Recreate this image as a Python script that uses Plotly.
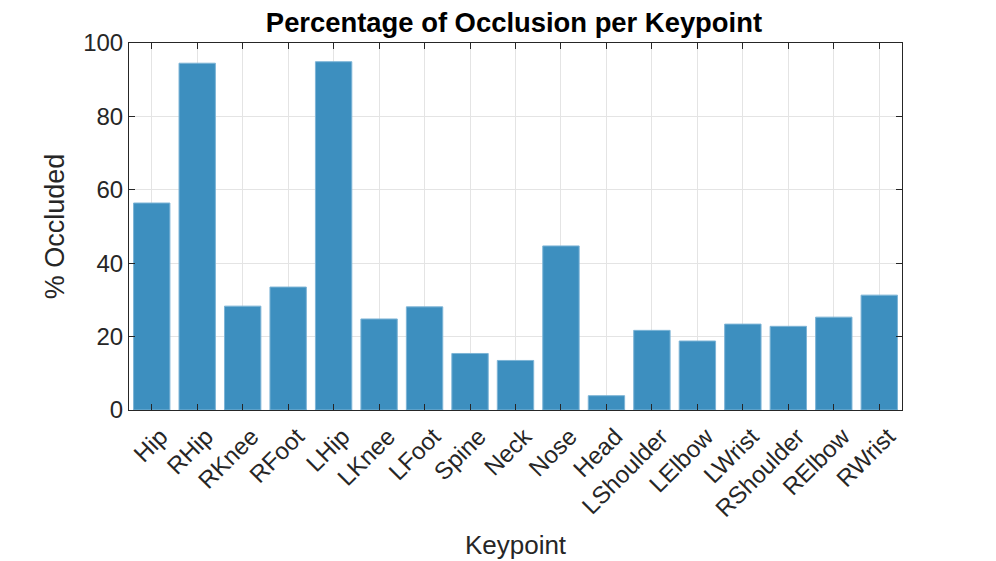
import plotly.graph_objects as go

keypoints = ["Hip", "RHip", "RKnee", "RFoot", "LHip", "LKnee", "LFoot", "Spine", "Neck",
             "Nose", "Head", "LShoulder", "LElbow", "LWrist", "RShoulder", "RElbow", "RWrist"]
occluded = [56.4, 94.5, 28.3, 33.5, 94.9, 24.8, 28.1, 15.4, 13.5,
            44.7, 3.9, 21.7, 18.8, 23.4, 22.8, 25.3, 31.3]
y_ticks = [0, 20, 40, 60, 80, 100]

FONT = "Liberation Sans, Arial, Helvetica, sans-serif"
DARK = "#262626"

fig = go.Figure(go.Bar(
    x=keypoints, y=occluded, width=0.8,
    marker=dict(color="rgb(61,143,191)", line=dict(color="rgb(125,180,214)", width=1)),
))

# page body has an 8px offset; margins compensate so the plot area lands at x 129-902, y 43-410
fig.update_layout(
    width=996, height=561,
    margin=dict(l=121, r=102, t=35, b=159),
    paper_bgcolor="white", plot_bgcolor="white",
    font=dict(family=FONT, color=DARK, size=24),
    title=dict(text="<b>Percentage of Occlusion per Keypoint</b>", x=0.508, xanchor="center",
               y=1 - 14 / 561, yanchor="middle", yref="container",
               font=dict(size=27.4, color="black", family=FONT)),
    showlegend=False,
    bargap=0.2,
)
fig.update_xaxes(
    title=dict(text="Keypoint", font=dict(size=26), standoff=14),
    tickangle=-45, tickfont=dict(size=24), automargin=False,
    ticklabelshift=9, ticklabelstandoff=2,
    showline=True, linecolor=DARK, linewidth=1, mirror="allticks",
    ticks="inside", ticklen=6, tickcolor=DARK,
    showgrid=True, gridcolor="rgb(228,228,228)",
    range=[-0.5, len(keypoints) - 0.5],
)
fig.update_yaxes(
    title=dict(text="% Occluded", font=dict(size=27), standoff=10),
    range=[0, 100], tickvals=y_ticks, tickfont=dict(size=24), automargin=False,
    showline=True, linecolor=DARK, linewidth=1, mirror="allticks",
    ticks="inside", ticklen=6, tickcolor=DARK,
    showgrid=True, gridcolor="rgb(228,228,228)", zeroline=False,
)

fig.write_html("out.html")
